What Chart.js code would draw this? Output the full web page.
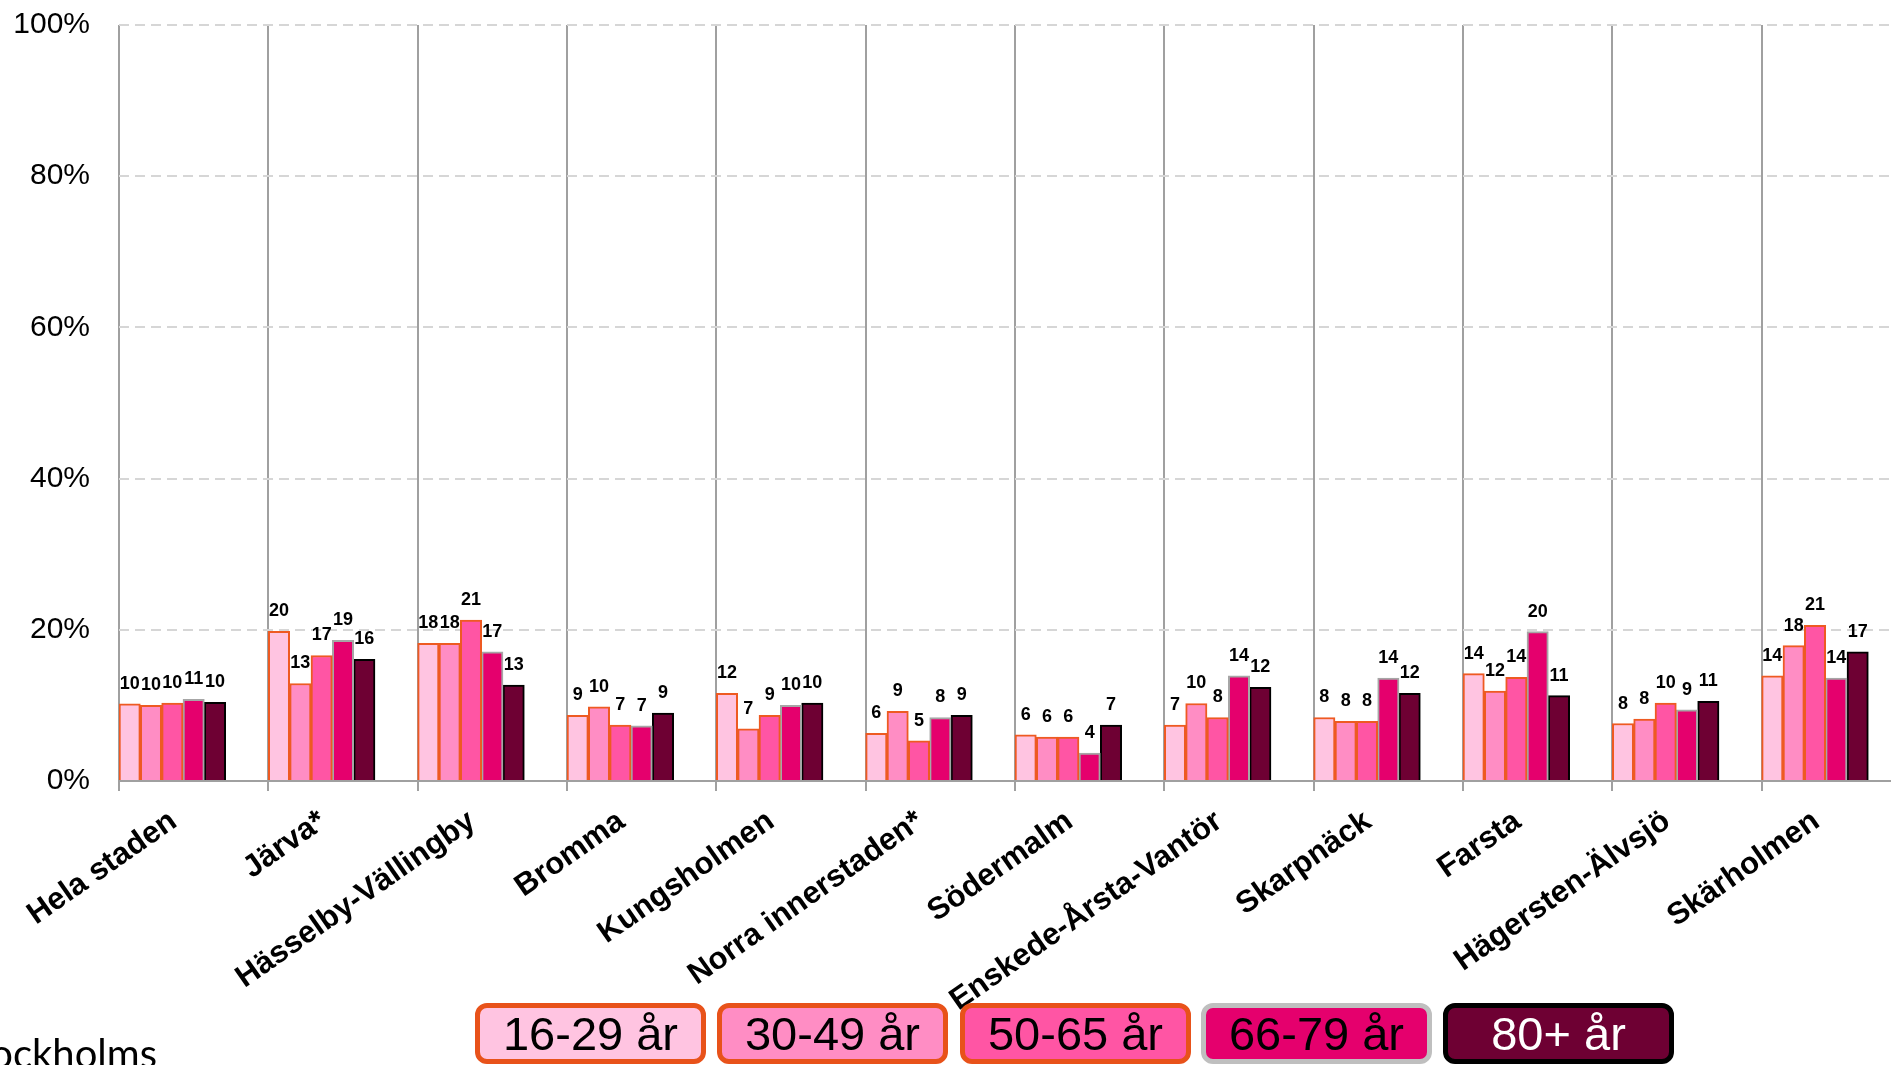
<!DOCTYPE html>
<html>
<head>
<meta charset="utf-8">
<script src="https://cdn.jsdelivr.net/npm/chart.js@4.4.0/dist/chart.umd.min.js"></script>
<style>
  html, body { margin:0; padding:0; background:#fff; overflow:hidden; width:1891px; height:1065px; }
  #wrap { position:absolute; left:0; top:-22px; width:1915px; height:1087px; }
  .lg { position:absolute; top:1003px; height:61px; width:231px; box-sizing:border-box; border:5px solid; border-radius:12px;
        display:flex; align-items:center; justify-content:center; font-family:"Liberation Sans", Arial, sans-serif; font-size:47px; color:#000; z-index:2; }
  #src { position:absolute; left:157px; top:1033px; transform:translateX(-100%); white-space:nowrap; font-family:Lato, "Open Sans", sans-serif; font-size:40px; line-height:40px; color:#000; }
</style>
</head>
<body>
<div id="wrap"><canvas id="c"></canvas></div>
<div id="legend"></div>
<div id="src">Stockholms</div>
<script>
// ---- data ----
const categories = ['Hela staden','Järva*','Hässelby-Vällingby','Bromma','Kungsholmen','Norra innerstaden*','Södermalm','Enskede-Årsta-Vantör','Skarpnäck','Farsta','Hägersten-Älvsjö','Skärholmen'];
const seriesNames = ['16-29 år','30-49 år','50-65 år','66-79 år','80+ år'];
const age16_29 = [10.2, 19.8, 18.2, 8.7, 11.6, 6.3, 6.1, 7.4, 8.4, 14.2, 7.6, 13.9];
const age30_49 = [10.0, 12.9, 18.2, 9.8, 6.9, 9.2, 5.8, 10.25, 7.9, 11.9, 8.2, 17.9];
const age50_65 = [10.3, 16.6, 21.3, 7.4, 8.7, 5.3, 5.8, 8.4, 7.9, 13.7, 10.3, 20.6];
const age66_79 = [10.8, 18.6, 17.1, 7.3, 10.0, 8.4, 3.7, 13.9, 13.6, 19.75, 9.4, 13.6];
const age80plus = [10.4, 16.1, 12.7, 9.0, 10.3, 8.7, 7.4, 12.4, 11.6, 11.3, 10.55, 17.1];
const yTicks = [0, 20, 40, 60, 80, 100];

// ---- styles ----
const fills = ['#FFC4E1','#FF8DC4','#FF55A4','#E5006D','#6E0033'];
const barBorders = ['#EE5A22','#EE5A22','#EE5A22','#A6A6A6','#000000'];
const legendBorders = ['#E8521A','#E8521A','#E8521A','#BFBFBF','#000000'];
const legendText = ['#000','#000','#000','#000','#fff'];

const seriesData = [age16_29, age30_49, age50_65, age66_79, age80plus];
const datasets = seriesData.map((d, i) => ({
  label: seriesNames[i], data: d, backgroundColor: fills[i], borderColor: barBorders[i], borderWidth: 2,
  borderSkipped: 'bottom', showValues: true
}));
// two empty slots keep each group left-aligned within its category, as in the original
datasets.push({ label: '', data: categories.map(() => null), showValues: false });
datasets.push({ label: '', data: categories.map(() => null), showValues: false });

const valueLabels = {
  id: 'valueLabels',
  afterDatasetsDraw(chart) {
    const ctx = chart.ctx;
    ctx.save();
    ctx.font = 'bold 18px "Liberation Sans", Arial, sans-serif';
    ctx.fillStyle = '#000';
    ctx.textAlign = 'center';
    ctx.textBaseline = 'bottom';
    chart.data.datasets.forEach((ds, i) => {
      if (!ds.showValues) return;
      chart.getDatasetMeta(i).data.forEach((bar, j) => {
        const v = ds.data[j];
        if (v == null) return;
        ctx.fillText(String(Math.round(v)), bar.x, bar.y - 11);
      });
    });
    ctx.restore();
  }
};

new Chart(document.getElementById('c'), {
  type: 'bar',
  data: { labels: categories, datasets },
  plugins: [valueLabels],
  options: {
    responsive: true, maintainAspectRatio: false, animation: false,
    layout: { padding: { top: 2, right: 4, left: 0, bottom: 0 } },
    datasets: { bar: { categoryPercentage: 1.0, barPercentage: 1.0 } },
    plugins: { legend: { display: false }, tooltip: { enabled: false } },
    scales: {
      x: {
        offset: true,
        grid: { offset: true, color: '#A0A0A0', lineWidth: 2, tickLength: 10, drawTicks: true, tickColor: '#A0A0A0', tickWidth: 2 },
        border: { display: true, color: '#A0A0A0', width: 2 },
        ticks: {
          autoSkip: false, minRotation: 35, maxRotation: 35, padding: 12, labelOffset: -20,
          color: '#000', font: { family: '"Liberation Sans", Arial, sans-serif', size: 31, weight: 'bold' }
        },
        afterFit: s => { s.height = 284; }
      },
      y: {
        min: 0, max: 100,
        afterBuildTicks: s => { s.ticks = yTicks.map(v => ({ value: v })); },
        grid: { color: ctx => ctx.tick && ctx.tick.value === 0 ? 'rgba(0,0,0,0)' : '#D6D6D6', lineWidth: 2, drawTicks: false },
        border: { display: false, dash: [10, 6] },
        ticks: { padding: 29, color: '#000', font: { family: '"Liberation Sans", Arial, sans-serif', size: 30 }, callback: v => v + '%' },
        afterFit: s => { s.width = 119; }
      }
    }
  }
});

// legend
const lg = document.getElementById('legend');
const legendLeft = [475, 717, 960, 1201, 1443];
seriesNames.forEach((n, i) => {
  const d = document.createElement('div');
  d.className = 'lg';
  d.style.left = legendLeft[i] + 'px';
  d.style.background = fills[i];
  d.style.borderColor = legendBorders[i];
  d.style.color = legendText[i];
  d.textContent = n;
  lg.appendChild(d);
});
</script>
</body>
</html>
